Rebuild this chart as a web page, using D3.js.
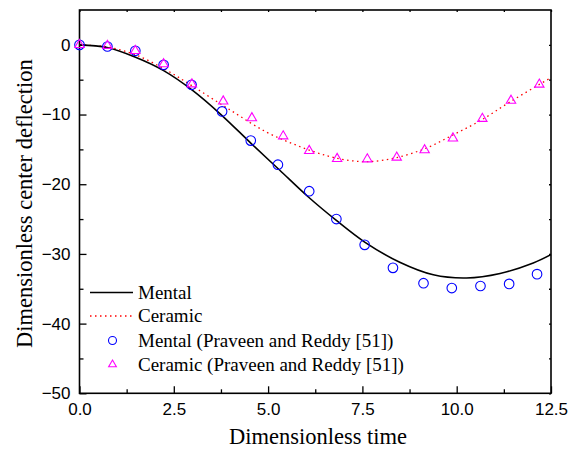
<!DOCTYPE html>
<html>
<head>
<meta charset="utf-8">
<script src="https://cdn.jsdelivr.net/npm/d3@7"></script>
<style>
  html, body { margin: 0; padding: 0; background: #fff; }
  svg { display: block; }
  .tick text { font-family: "Liberation Sans", Arial, sans-serif; font-size: 17px; fill: #000; }
  .serif { font-family: "Liberation Serif", "Times New Roman", serif; fill: #000; }
</style>
</head>
<body>
<svg id="chart" width="581" height="449"></svg>
<script>
// Analytical curves (sampled along dimensionless time)
const curveTime     = [0, 0.73, 1.47, 2.23, 2.99, 3.75, 4.56, 5.31, 6.06, 6.81, 7.56, 8.49, 9.38, 10.26, 11.15, 12.03, 12.5];
const mentalCurve   = [0, -0.39, -1.75, -3.7, -6.5, -10.0, -14.2, -18.0, -21.8, -25.2, -28.3, -31.2, -33.0, -33.45, -32.8, -31.3, -30.1];
const ceramicTime   = [0, 0.73, 1.47, 2.23, 2.99, 3.98, 4.95, 5.75, 6.55, 7.17, 7.7, 8.4, 9.2, 9.91, 10.62, 11.41, 12.5];
const ceramicCurve  = [0, -0.3, -1.4, -3.4, -5.9, -9.3, -12.5, -14.4, -15.9, -16.6, -16.75, -16.2, -14.8, -12.9, -10.9, -8.2, -4.7];

// Reference points (Praveen and Reddy [51])
const refMentalTime  = [0, 0.74, 1.48, 2.23, 2.97, 3.78, 4.54, 5.26, 6.09, 6.81, 7.56, 8.31, 9.12, 9.87, 10.63, 11.39, 12.13];
const refMentalVal   = [0, -0.24, -0.86, -2.86, -5.73, -9.55, -13.74, -17.2, -21.0, -25.0, -28.7, -32.0, -34.2, -34.9, -34.6, -34.3, -32.9];
const refCeramicTime = [0, 0.74, 1.48, 2.23, 2.98, 3.81, 4.57, 5.4, 6.09, 6.83, 7.63, 8.41, 9.15, 9.9, 10.68, 11.44, 12.19];
const refCeramicVal  = [0, -0.12, -0.86, -2.76, -5.65, -8.1, -10.5, -13.1, -15.2, -16.35, -16.4, -16.15, -15.1, -13.4, -10.6, -8.0, -5.68];

// Axis ticks
const xMajor = [0, 2.5, 5, 7.5, 10, 12.5];
const xMinor = [1.25, 3.75, 6.25, 8.75, 11.25];
const yMajor = [0, -10, -20, -30, -40, -50];
const yMinor = [-5, -15, -25, -35, -45];

const legendLabels = ["Mental", "Ceramic", "Mental (Praveen and Reddy [51])", "Ceramic (Praveen and Reddy [51])"];

const svg = d3.select("#chart");
const plotLeft = 79.5, plotRight = 551, plotTop = 10, plotBottom = 393.3;

const x = d3.scaleLinear().domain([0, 12.5]).range([plotLeft, plotRight]);
const y = d3.scaleLinear().domain([-50, 5]).range([plotBottom, plotTop]);

const fmtX = d3.format(".1f");
const dotted = "1.5,3.5";

// Bottom axis: inward ticks, labels below
svg.append("g").attr("transform", `translate(0,${plotBottom})`)
  .call(d3.axisBottom(x).tickValues(xMajor).tickFormat(fmtX).tickSizeInner(-7).tickSizeOuter(0).tickPadding(10))
  .call(g => g.select(".domain").remove());
svg.append("g").attr("transform", `translate(0,${plotBottom})`)
  .call(d3.axisBottom(x).tickValues(xMinor).tickFormat("").tickSizeInner(-4).tickSizeOuter(0))
  .call(g => g.select(".domain").remove());

// Left axis
svg.append("g").attr("transform", `translate(${plotLeft},0)`)
  .call(d3.axisLeft(y).tickValues(yMajor).tickFormat(d3.format("d")).tickSizeInner(-7).tickSizeOuter(0).tickPadding(9))
  .call(g => g.select(".domain").remove());
svg.append("g").attr("transform", `translate(${plotLeft},0)`)
  .call(d3.axisLeft(y).tickValues(yMinor).tickFormat("").tickSizeInner(-4).tickSizeOuter(0))
  .call(g => g.select(".domain").remove());

// Top and right axes: short inward ticks only
svg.append("g").attr("transform", `translate(0,${plotTop})`)
  .call(d3.axisTop(x).tickValues(xMajor.concat(xMinor)).tickFormat("").tickSizeInner(-2).tickSizeOuter(0))
  .call(g => g.select(".domain").remove());
svg.append("g").attr("transform", `translate(${plotRight},0)`)
  .call(d3.axisRight(y).tickValues(yMajor.concat(yMinor)).tickFormat("").tickSizeInner(-2).tickSizeOuter(0))
  .call(g => g.select(".domain").remove());

svg.selectAll(".tick line").attr("stroke", "#000").attr("stroke-width", 1.3);

// Plot frame
svg.append("rect")
  .attr("x", plotLeft).attr("y", plotTop)
  .attr("width", plotRight - plotLeft).attr("height", plotBottom - plotTop)
  .attr("fill", "none").attr("stroke", "#000").attr("stroke-width", 1.6);

const line = d3.line().x(d => x(d[0])).y(d => y(d[1])).curve(d3.curveCatmullRom.alpha(0.5));

// Analytical curves
svg.append("path")
  .datum(d3.zip(ceramicTime, ceramicCurve))
  .attr("d", line)
  .attr("fill", "none").attr("stroke", "#ff0000").attr("stroke-width", 1.3)
  .attr("stroke-dasharray", dotted);

svg.append("path")
  .datum(d3.zip(curveTime, mentalCurve))
  .attr("d", line)
  .attr("fill", "none").attr("stroke", "#000").attr("stroke-width", 1.6);

// Reference markers
const triangle = d3.symbol().type(d3.symbolTriangle).size(38);

svg.append("g").selectAll("circle")
  .data(d3.zip(refMentalTime, refMentalVal))
  .join("circle")
  .attr("cx", d => x(d[0])).attr("cy", d => y(d[1])).attr("r", 4.8)
  .attr("fill", "none").attr("stroke", "#0000ff").attr("stroke-width", 1.1);

svg.append("g").selectAll("path")
  .data(d3.zip(refCeramicTime, refCeramicVal))
  .join("path")
  .attr("d", triangle)
  .attr("transform", d => `translate(${x(d[0])},${y(d[1])})`)
  .attr("fill", "none").attr("stroke", "#ff00ff").attr("stroke-width", 1.1);

// Legend
const lg = svg.append("g");
const rowY = [292.5, 316, 340.5, 364.5];
lg.append("line").attr("x1", 90).attr("x2", 133).attr("y1", rowY[0]).attr("y2", rowY[0])
  .attr("stroke", "#000").attr("stroke-width", 1.6);
lg.append("line").attr("x1", 90).attr("x2", 133).attr("y1", rowY[1]).attr("y2", rowY[1])
  .attr("stroke", "#ff0000").attr("stroke-width", 1.3).attr("stroke-dasharray", dotted);
lg.append("circle").attr("cx", 112.5).attr("cy", rowY[2]).attr("r", 4)
  .attr("fill", "none").attr("stroke", "#0000ff").attr("stroke-width", 1.1);
lg.append("path").attr("d", d3.symbol().type(d3.symbolTriangle).size(26))
  .attr("transform", `translate(112.5,${rowY[3]})`)
  .attr("fill", "none").attr("stroke", "#ff00ff").attr("stroke-width", 1.1);
lg.selectAll("text").data(legendLabels).join("text")
  .attr("class", "serif")
  .attr("x", 138).attr("y", (d, i) => rowY[i] + 6.3)
  .attr("font-size", 19)
  .text(d => d);

// Axis titles
svg.append("text").attr("class", "serif")
  .attr("x", 318).attr("y", 444)
  .attr("text-anchor", "middle").attr("font-size", 22.5)
  .text("Dimensionless time");

svg.append("text").attr("class", "serif")
  .attr("transform", `translate(32,${(plotTop + plotBottom) / 2 + 2}) rotate(-90)`)
  .attr("text-anchor", "middle").attr("font-size", 22.5)
  .text("Dimensionless center deflection");
</script>
</body>
</html>
